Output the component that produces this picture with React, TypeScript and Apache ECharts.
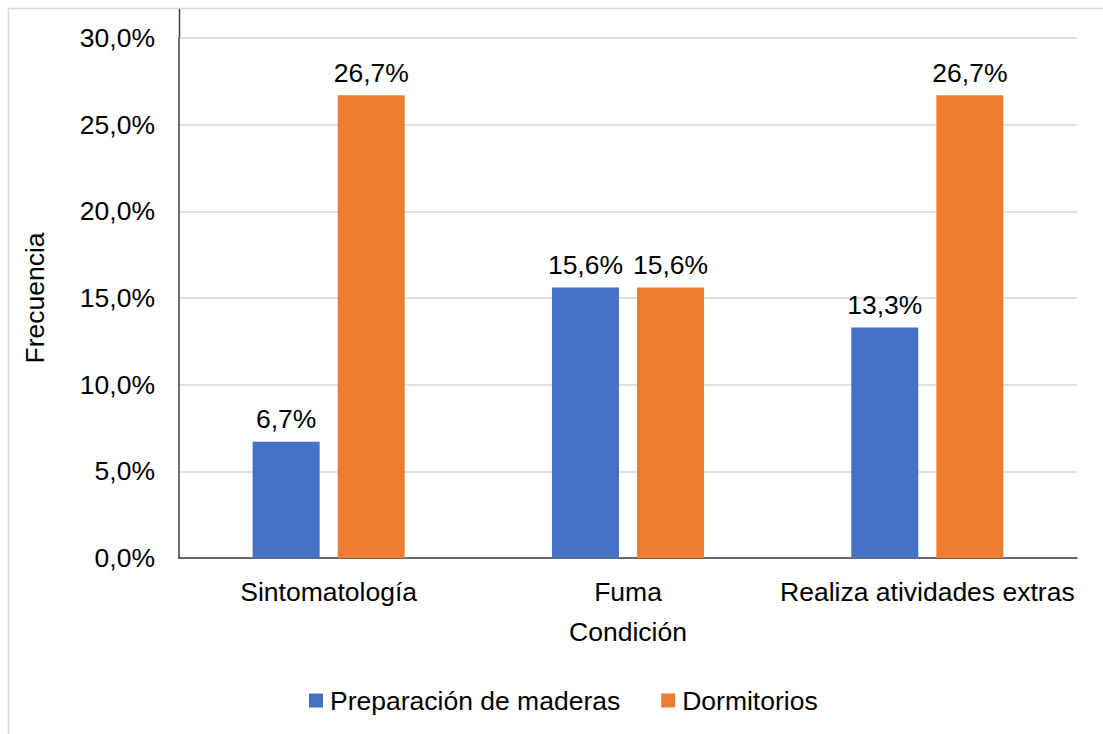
import React, { useEffect, useRef } from "react";
import * as echarts from "echarts";

const categories = ["Sintomatología", "Fuma", "Realiza atividades extras"];
const seriesNames = ["Preparación de maderas", "Dormitorios"];
const maderas = [6.7, 15.6, 13.3];
const dormitorios = [26.7, 15.6, 26.7];
const yTicks = [0, 5, 10, 15, 20, 25, 30];

const FONT = "'Liberation Sans', Arial, sans-serif";
const FS = 26.5;
const pct = (v: number) => v.toFixed(1).replace(".", ",") + "%";

export default function App() {
  const ref = useRef<HTMLDivElement>(null);

  useEffect(() => {
    if (!ref.current) return;
    const chart = echarts.init(ref.current, undefined, { renderer: "svg" });
    const label = {
      show: true,
      position: "top" as const,
      distance: 9,
      color: "#000",
      fontSize: FS,
      fontFamily: FONT,
      formatter: (p: any) => pct(p.value),
    };
    chart.setOption({
      animation: false,
      textStyle: { fontFamily: FONT },
      color: ["#4472C4", "#ED7D31"],
      grid: { left: 179, right: 26, top: 38, bottom: 176, containLabel: false },
      graphic: [
        {
          type: "rect",
          shape: { x: 8.5, y: 8.5, width: 1300, height: 900 },
          style: { fill: "none", stroke: "#d9d9d9", lineWidth: 1.5 },
          z: -1,
        },
        {
          type: "line",
          shape: { x1: 179.5, y1: 9, x2: 179.5, y2: 38 },
          style: { stroke: "#404040", lineWidth: 1.5 },
        },
      ],
      legend: {
        data: seriesNames,
        left: 309,
        top: 687,
        padding: 0,
        icon: "rect",
        itemWidth: 14,
        itemHeight: 14,
        itemGap: 41,
        textStyle: { fontSize: FS, color: "#000", fontFamily: FONT, padding: [0, 0, 0, 2] },
      },
      xAxis: {
        type: "category",
        data: categories,
        name: "Condición",
        nameLocation: "middle",
        nameGap: 60,
        nameTextStyle: { fontSize: FS, color: "#000", fontFamily: FONT },
        axisLine: { lineStyle: { color: "#404040", width: 1.5 } },
        axisTick: { show: false },
        axisLabel: { interval: 0, fontSize: FS, color: "#000", margin: 20, fontFamily: FONT },
      },
      yAxis: {
        type: "value",
        min: yTicks[0],
        max: yTicks[yTicks.length - 1],
        interval: 5,
        name: "Frecuencia",
        nameLocation: "middle",
        nameGap: 131,
        nameRotate: 90,
        nameTextStyle: { fontSize: FS, color: "#000", fontFamily: FONT },
        axisLine: { show: true, lineStyle: { color: "#404040", width: 1.5 } },
        axisTick: { show: false },
        axisLabel: { fontSize: FS, color: "#000", margin: 24, fontFamily: FONT, formatter: (v: number) => pct(v) },
        splitLine: { lineStyle: { color: "#d9d9d9", width: 1.5 } },
      },
      series: [
        { name: seriesNames[0], type: "bar", data: maderas, barWidth: 67, barGap: "27%", label },
        { name: seriesNames[1], type: "bar", data: dormitorios, barWidth: 67, barGap: "27%", label },
      ],
    });
    return () => chart.dispose();
  }, []);

  return (
    <div
      ref={ref}
      style={{ position: "absolute", left: 0, top: 0, width: 1103, height: 734, background: "#fff" }}
    />
  );
}
